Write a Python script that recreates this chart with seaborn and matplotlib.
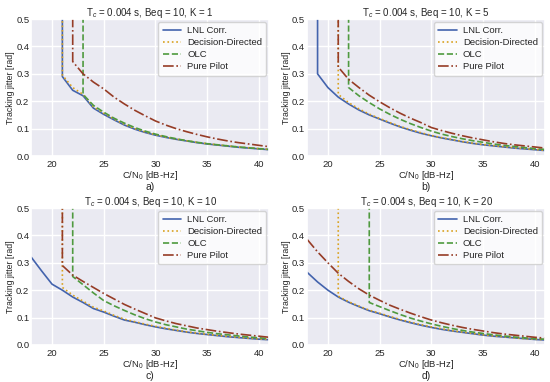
import numpy as np
import pandas as pd
import seaborn as sns
import matplotlib
matplotlib.use("Agg")
import matplotlib.pyplot as plt

# --- data (jitter in rad vs C/N0 in dB-Hz) ---
XMIN, XMAX = 18, 41
LOST = 1.0  # loss of lock, drawn off the top of the axes

k_values = [1, 5, 10, 20]
panel_tags = ["a)", "b)", "c)", "d)"]
methods = ["LNL Corr.", "Decision-Directed", "OLC", "Pure Pilot"]

# first C/N0 where each method keeps lock, per panel
start_k1 = [21, 21, 23, 22]
start_k5 = [19, 21, 22, 21]
start_k10 = [18, 21, 22, 21]
start_k20 = [18, 21, 24, 18]

# K = 1
lnl_k1 = [0.29, 0.24, 0.22, 0.175, 0.152, 0.132, 0.113, 0.098, 0.086, 0.076, 0.068,
          0.061, 0.055, 0.049, 0.044, 0.040, 0.036, 0.032, 0.029, 0.026, 0.023]
dd_k1 = [0.295, 0.25, 0.225, 0.18, 0.156, 0.135, 0.116, 0.10, 0.088, 0.078, 0.069,
         0.062, 0.056, 0.05, 0.045, 0.041, 0.037, 0.033, 0.03, 0.027, 0.024]
olc_k1 = [0.225, 0.185, 0.16, 0.138, 0.12, 0.104, 0.091, 0.08, 0.071, 0.063,
          0.056, 0.05, 0.045, 0.041, 0.037, 0.033, 0.03, 0.027, 0.024]
pp_k1 = [0.345, 0.30, 0.27, 0.245, 0.215, 0.19, 0.167, 0.147, 0.128, 0.113,
         0.10, 0.089, 0.079, 0.07, 0.062, 0.055, 0.049, 0.044, 0.039, 0.034]

# K = 5
lnl_k5 = [0.30, 0.25, 0.215, 0.19, 0.168, 0.15, 0.135, 0.12, 0.106, 0.094, 0.083,
          0.074, 0.066, 0.059, 0.052, 0.046, 0.041, 0.037, 0.033, 0.029, 0.026,
          0.023, 0.02]
dd_k5 = [0.225, 0.195, 0.172, 0.153, 0.137, 0.122, 0.108, 0.096, 0.085, 0.075,
         0.067, 0.06, 0.053, 0.047, 0.042, 0.038, 0.034, 0.03, 0.027, 0.024, 0.021]
olc_k5 = [0.25, 0.22, 0.195, 0.172, 0.152, 0.134, 0.118, 0.104, 0.091, 0.08,
          0.071, 0.063, 0.056, 0.05, 0.044, 0.039, 0.035, 0.031, 0.027, 0.024]
pp_k5 = [0.325, 0.28, 0.25, 0.222, 0.198, 0.176, 0.156, 0.138, 0.122, 0.104,
         0.093, 0.083, 0.074, 0.066, 0.059, 0.052, 0.046, 0.041, 0.037, 0.033, 0.029]

# K = 10
lnl_k10 = [0.32, 0.27, 0.222, 0.2, 0.175, 0.155, 0.133, 0.12, 0.105, 0.091, 0.083,
           0.074, 0.066, 0.059, 0.053, 0.047, 0.042, 0.038, 0.034, 0.03, 0.027,
           0.024, 0.021, 0.019]
dd_k10 = [0.21, 0.182, 0.16, 0.138, 0.124, 0.108, 0.094, 0.085, 0.076, 0.068,
          0.061, 0.054, 0.048, 0.043, 0.039, 0.035, 0.031, 0.028, 0.025, 0.022, 0.02]
olc_k10 = [0.25, 0.22, 0.19, 0.162, 0.143, 0.126, 0.11, 0.096, 0.084, 0.074,
           0.066, 0.058, 0.052, 0.046, 0.041, 0.037, 0.033, 0.029, 0.026, 0.023]
pp_k10 = [0.29, 0.255, 0.232, 0.21, 0.188, 0.168, 0.148, 0.131, 0.115, 0.099,
          0.088, 0.078, 0.07, 0.062, 0.056, 0.05, 0.045, 0.04, 0.036, 0.032, 0.028]

# K = 20
lnl_k20 = [0.265, 0.23, 0.2, 0.175, 0.156, 0.14, 0.125, 0.114, 0.102, 0.091, 0.081,
           0.072, 0.064, 0.057, 0.051, 0.046, 0.041, 0.036, 0.032, 0.029, 0.026,
           0.023, 0.02, 0.018]
dd_k20 = [0.178, 0.158, 0.142, 0.127, 0.116, 0.104, 0.093, 0.083, 0.074, 0.066,
          0.059, 0.052, 0.047, 0.042, 0.037, 0.033, 0.03, 0.026, 0.023, 0.021, 0.019]
olc_k20 = [0.155, 0.14, 0.125, 0.111, 0.098, 0.087, 0.077, 0.068, 0.06, 0.053,
           0.047, 0.042, 0.037, 0.033, 0.029, 0.026, 0.023, 0.021]
pp_k20 = [0.385, 0.34, 0.30, 0.262, 0.232, 0.205, 0.182, 0.163, 0.145, 0.13,
          0.116, 0.103, 0.091, 0.081, 0.072, 0.064, 0.057, 0.051, 0.045, 0.04,
          0.036, 0.032, 0.028, 0.025]

panel_starts = [start_k1, start_k5, start_k10, start_k20]
panel_values = [
    [lnl_k1, dd_k1, olc_k1, pp_k1],
    [lnl_k5, dd_k5, olc_k5, pp_k5],
    [lnl_k10, dd_k10, olc_k10, pp_k10],
    [lnl_k20, dd_k20, olc_k20, pp_k20],
]

colors = ["#4363ad", "#d9a21f", "#4f9a3f", "#963c26"]
styles = ["-", ":", "--", "-."]

sns.set_theme(style="darkgrid")
plt.rcParams["font.family"] = ["Liberation Sans", "DejaVu Sans"]
plt.rcParams["mathtext.fontset"] = "custom"
plt.rcParams["mathtext.rm"] = "Liberation Sans"
plt.rcParams["mathtext.it"] = "Liberation Sans:italic"

fig, axes = plt.subplots(2, 2, figsize=(5.5, 3.82), dpi=100)
fig.subplots_adjust(left=0.057, right=0.991, top=0.950, bottom=0.097,
                    wspace=0.16, hspace=0.38)

for ax, k, tag, starts, values in zip(axes.flat, k_values, panel_tags,
                                      panel_starts, panel_values):
    for name, start, vals, col, ls in zip(methods, starts, values, colors, styles):
        x = list(range(start, start + len(vals)))
        y = list(vals)
        if start > XMIN:
            # loss of lock below the threshold -> vertical jump
            x = [start] + x
            y = [LOST] + y
        df = pd.DataFrame({"cn0": x, "jitter": y})
        sns.lineplot(data=df, x="cn0", y="jitter", ax=ax, estimator=None,
                     sort=False, color=col, linestyle=ls, linewidth=1.2,
                     label=name)
    ax.set_xlim(XMIN, XMAX)
    ax.set_ylim(0, 0.5)
    ax.set_xticks([20, 25, 30, 35, 40])
    ax.set_yticks(np.arange(0, 0.51, 0.1))
    ax.tick_params(axis="x", labelsize=6.8, pad=2.6, length=0)
    ax.tick_params(axis="y", labelsize=6.8, pad=1.5, length=0)
    ax.set_title(f"T$_c$ = 0.004 s, Beq = 10, K = {k}", fontsize=7, pad=2.5)
    ax.set_xlabel("C/N$_0$ [dB-Hz]", fontsize=6.8, labelpad=0.5)
    ax.annotate(tag, xy=(0.5, 0), xycoords="axes fraction", xytext=(0, -26),
                textcoords="offset pixels", ha="center", va="top", fontsize=7.5)
    ax.set_ylabel("Tracking jitter [rad]", fontsize=6.3, labelpad=1)
    leg = ax.legend(loc="upper right", fontsize=6.8, frameon=True,
                    handlelength=2.0, handletextpad=0.6, borderpad=0.45,
                    labelspacing=0.32, borderaxespad=0.3)
    leg.get_frame().set_facecolor("white")
    leg.get_frame().set_edgecolor("#cccccc")

plt.savefig("out.png", dpi=100)
